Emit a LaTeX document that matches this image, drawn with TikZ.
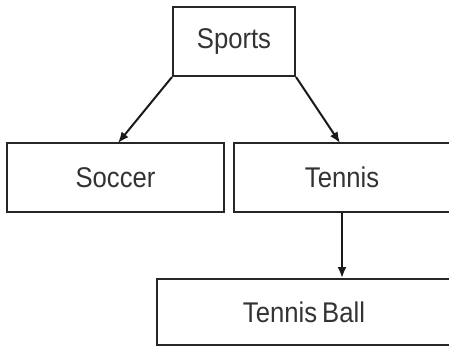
\documentclass[tikz,border=0pt]{standalone}
\usepackage{fontspec}
\setmainfont[FakeStretch=0.9]{Liberation Sans}
\usetikzlibrary{arrows.meta,calc}
\begin{document}
\begin{tikzpicture}[x=1pt,y=1pt,
  box/.style={draw=black!85,line width=2pt,rectangle,inner sep=0pt,
    font=\fontsize{28.5}{30}\selectfont,text=black!80},
  conn/.style={draw=black!90,line width=2pt,-{Latex[length=11pt,width=9pt]}}]
\useasboundingbox (0,0) rectangle (449,348);
\clip (0,0) rectangle (449,348);
\node[box,minimum width=122pt,minimum height=69pt] (sports) at (234,306.5) {Sports};
\node[box,minimum width=217pt,minimum height=69pt] (soccer) at (115.5,170.5) {Soccer};
\node[box,minimum width=216pt,minimum height=69pt] (tennis) at (342,170.5) {Tennis};
\node[box,minimum width=294pt,minimum height=66pt] (ball) at (304,36) {Tennis\hspace{-2pt} Ball};
\coordinate (sa) at (118,205);
\coordinate (ta) at (340,205);
\draw[conn] (sports.south west) -- (sa);
\draw[conn] (sports.south east) -- (ta);
\draw[conn] (tennis.south) -- (tennis.south |- ball.north);
\end{tikzpicture}
\end{document}
